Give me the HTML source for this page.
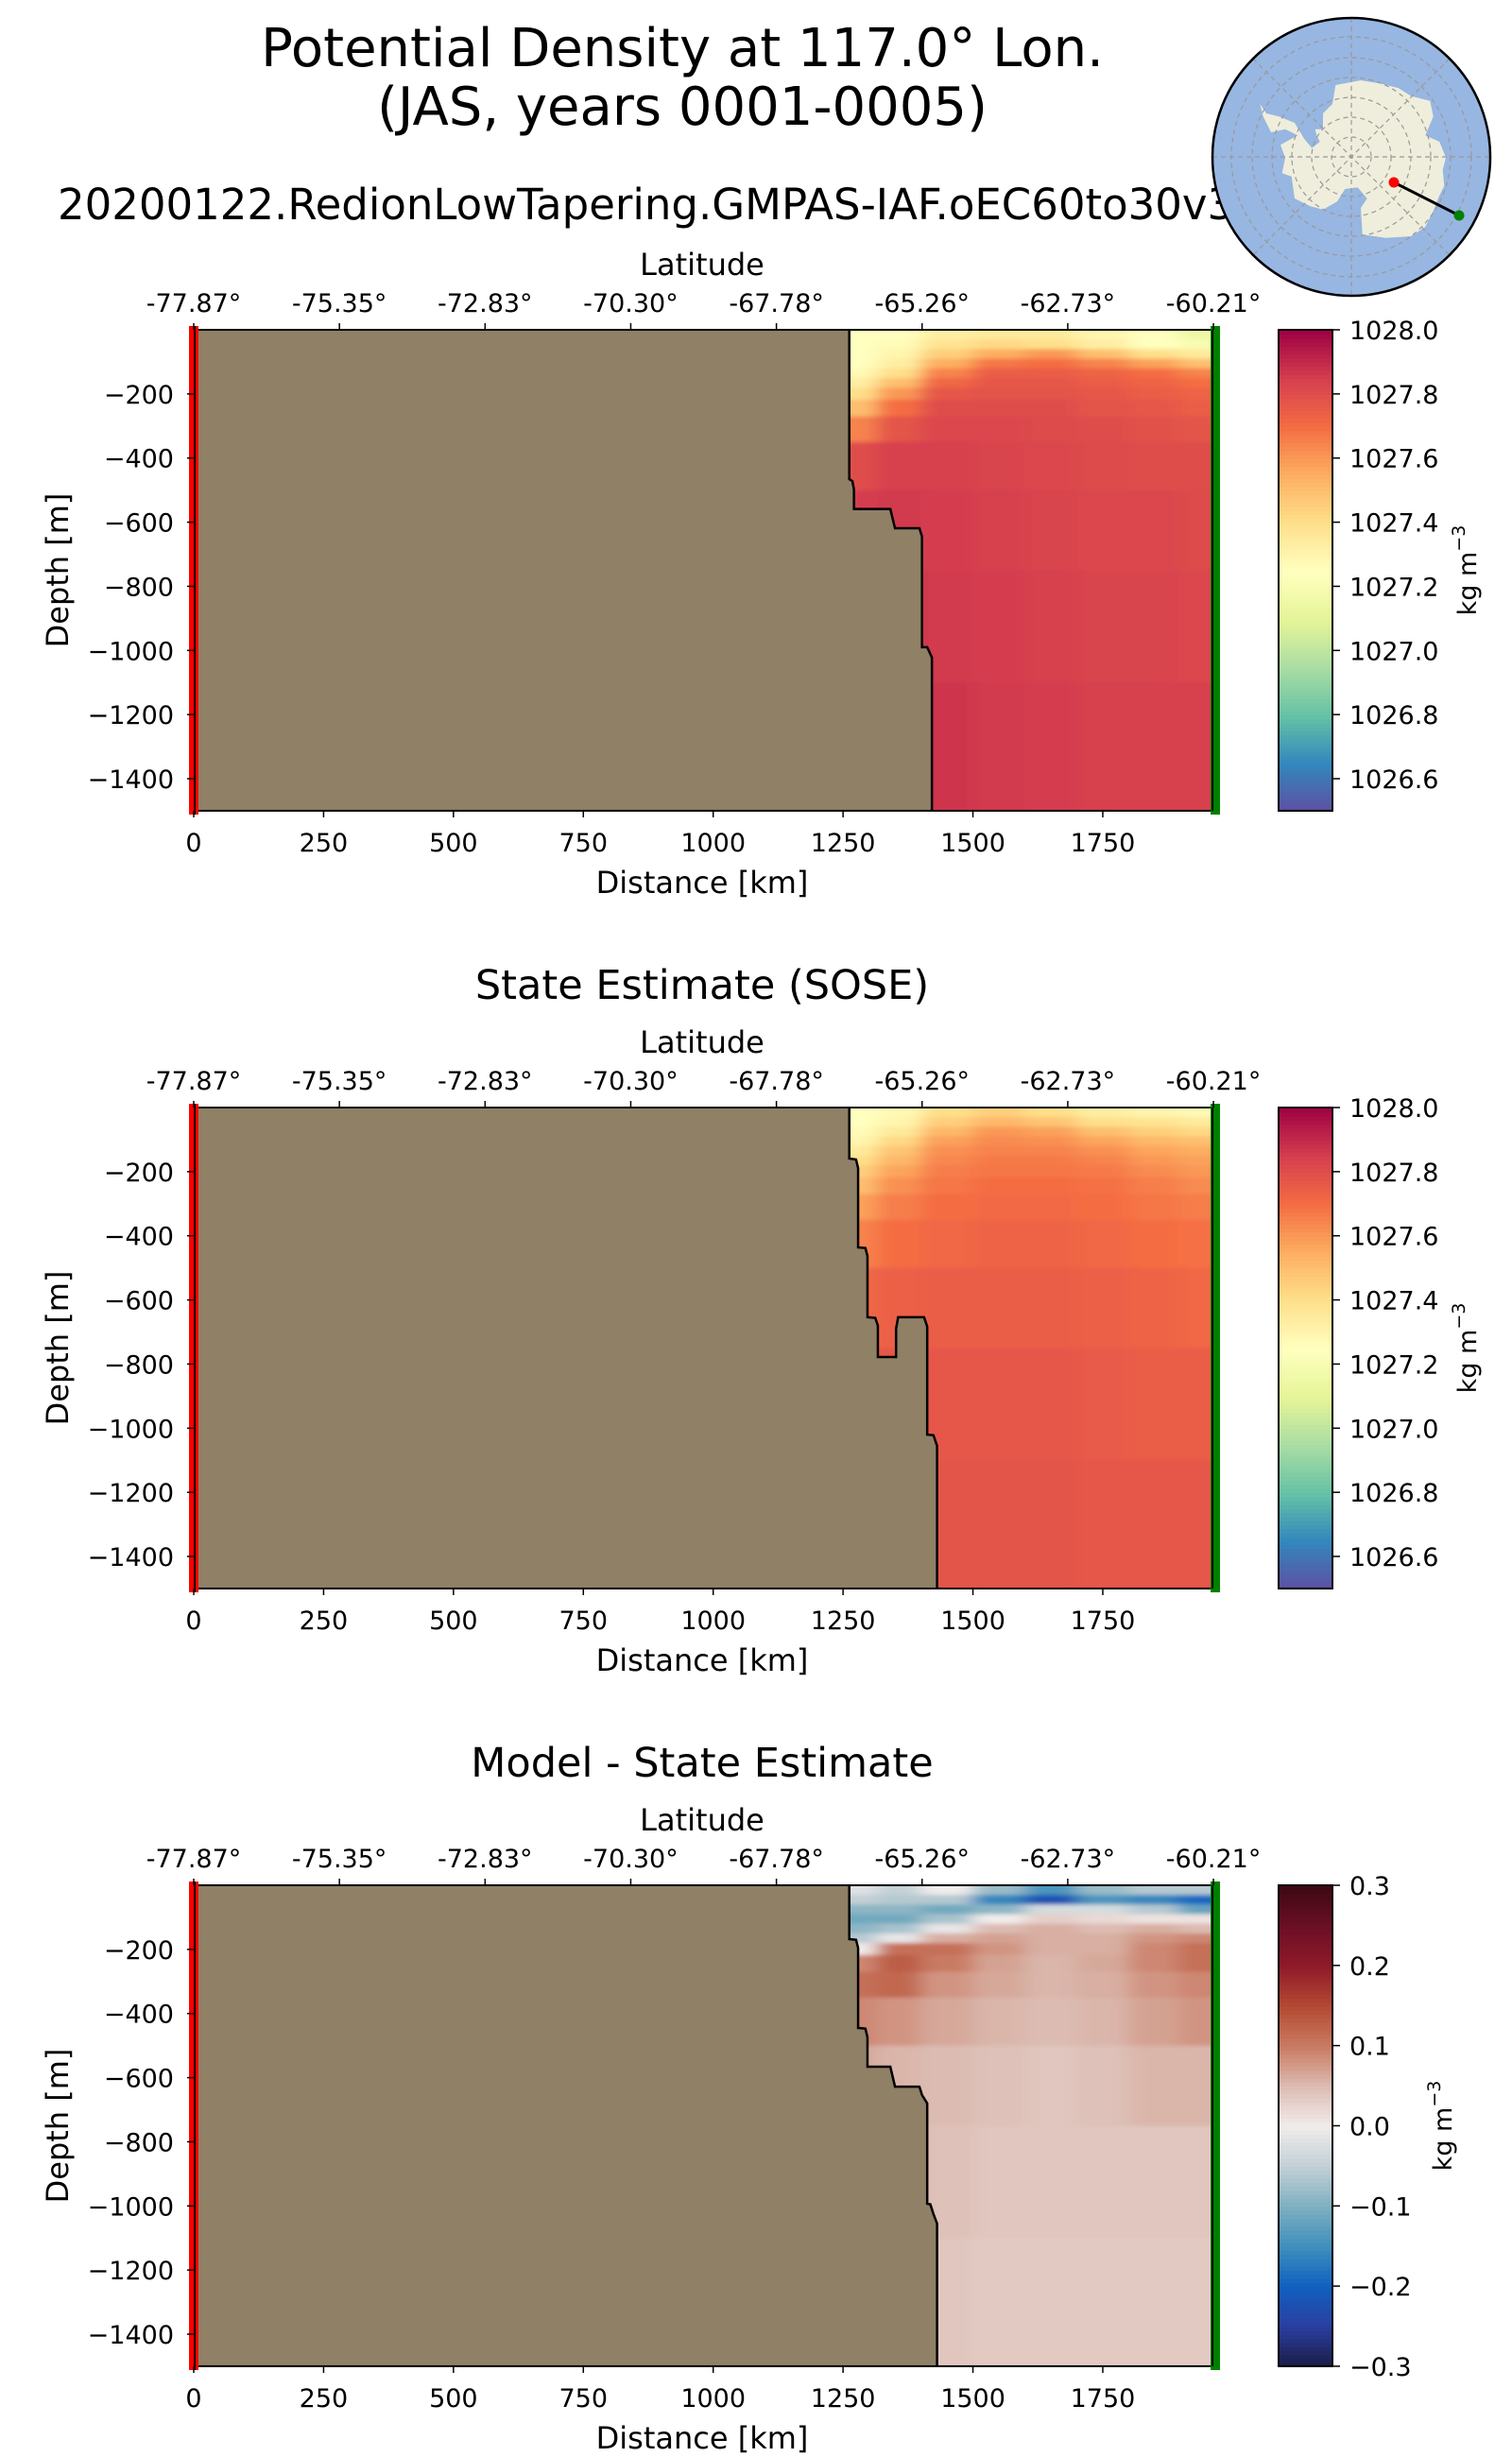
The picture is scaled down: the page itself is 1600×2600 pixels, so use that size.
<!DOCTYPE html>
<html><head><meta charset="utf-8">
<style>
html,body{margin:0;padding:0;background:#fff;}
svg{display:block;font-family:"DejaVu Sans","Liberation Sans",sans-serif;}
</style></head>
<body>
<svg id="fig" width="1600" height="2600" viewBox="0 0 1600 2600" xmlns="http://www.w3.org/2000/svg">
<defs>
<filter id="blur" x="-5%" y="-5%" width="110%" height="110%"><feGaussianBlur stdDeviation="10 2"/></filter>
</defs>
<text x="722" y="70" font-size="56" text-anchor="middle">Potential Density at 117.0° Lon.</text>
<text x="722" y="132" font-size="56" text-anchor="middle">(JAS, years 0001-0005)</text>
<text x="61" y="232" font-size="45">20200122.RedionLowTapering.GMPAS-IAF.oEC60to30v3</text>
<g id="panels"></g>
<g id="map"></g>
</svg>
<script>
// ---- data ----
const distTicks = [0,250,500,750,1000,1250,1500,1750];
const latTickLabels = ["-77.87°","-75.35°","-72.83°","-70.30°","-67.78°","-65.26°","-62.73°","-60.21°"];
const depthTicks = [-200,-400,-600,-800,-1000,-1200,-1400];
const rhoTicks = [1026.6,1026.8,1027.0,1027.2,1027.4,1027.6,1027.8,1028.0];
const diffTicks = [-0.3,-0.2,-0.1,0.0,0.1,0.2,0.3];
const colKm = [1280,1350,1450,1550,1650,1750,1850,1940];
const rowDepth = [15,45,75,105,135,165,195,240,300,400,600,900,1300];
const modelRho = [
[1027.25,1027.25,1027.33,1027.35,1027.35,1027.30,1027.25,1027.15],
[1027.25,1027.27,1027.38,1027.42,1027.40,1027.33,1027.25,1027.20],
[1027.25,1027.30,1027.45,1027.55,1027.60,1027.50,1027.40,1027.35],
[1027.25,1027.33,1027.55,1027.68,1027.70,1027.65,1027.58,1027.50],
[1027.28,1027.40,1027.65,1027.75,1027.75,1027.73,1027.70,1027.65],
[1027.33,1027.50,1027.72,1027.77,1027.77,1027.75,1027.73,1027.70],
[1027.40,1027.60,1027.77,1027.78,1027.78,1027.77,1027.75,1027.73],
[1027.50,1027.70,1027.80,1027.80,1027.80,1027.78,1027.77,1027.75],
[1027.65,1027.78,1027.82,1027.82,1027.81,1027.80,1027.79,1027.78],
[1027.80,1027.84,1027.84,1027.83,1027.82,1027.81,1027.80,1027.80],
[1027.85,1027.86,1027.85,1027.84,1027.83,1027.82,1027.82,1027.81],
[1027.87,1027.87,1027.86,1027.85,1027.84,1027.83,1027.83,1027.82],
[1027.88,1027.88,1027.87,1027.86,1027.85,1027.84,1027.84,1027.84]];
const soseRho = [
[1027.25,1027.28,1027.40,1027.45,1027.40,1027.33,1027.30,1027.28],
[1027.25,1027.30,1027.45,1027.52,1027.48,1027.40,1027.38,1027.35],
[1027.27,1027.35,1027.52,1027.60,1027.58,1027.50,1027.45,1027.42],
[1027.30,1027.42,1027.58,1027.63,1027.62,1027.57,1027.52,1027.50],
[1027.35,1027.48,1027.62,1027.65,1027.65,1027.62,1027.57,1027.55],
[1027.40,1027.52,1027.64,1027.67,1027.67,1027.65,1027.60,1027.58],
[1027.45,1027.57,1027.66,1027.68,1027.68,1027.67,1027.63,1027.60],
[1027.50,1027.62,1027.68,1027.70,1027.70,1027.69,1027.66,1027.63],
[1027.58,1027.66,1027.70,1027.71,1027.71,1027.70,1027.68,1027.66],
[1027.65,1027.70,1027.72,1027.73,1027.73,1027.72,1027.70,1027.69],
[1027.72,1027.74,1027.75,1027.75,1027.75,1027.74,1027.73,1027.72],
[1027.76,1027.77,1027.77,1027.77,1027.77,1027.76,1027.75,1027.75],
[1027.78,1027.78,1027.78,1027.78,1027.78,1027.77,1027.77,1027.77]];
const diffRho = [
[-0.02,-0.05,0.00,-0.08,-0.14,-0.08,-0.06,-0.06],
[-0.05,-0.06,-0.06,-0.16,-0.22,-0.14,-0.16,-0.19],
[-0.09,-0.09,-0.11,-0.09,-0.03,-0.03,-0.06,-0.12],
[-0.11,-0.11,-0.07,0.00,0.03,0.02,0.01,0.01],
[-0.09,-0.07,-0.01,0.05,0.06,0.05,0.06,0.05],
[-0.06,-0.01,0.06,0.07,0.06,0.06,0.08,0.09],
[0.00,0.11,0.11,0.08,0.06,0.06,0.09,0.11],
[0.09,0.13,0.10,0.07,0.055,0.065,0.09,0.11],
[0.11,0.12,0.08,0.065,0.055,0.06,0.08,0.09],
[0.09,0.08,0.065,0.055,0.05,0.055,0.07,0.08],
[0.065,0.055,0.05,0.045,0.04,0.045,0.055,0.055],
[0.055,0.05,0.045,0.04,0.04,0.04,0.04,0.04],
[0.05,0.045,0.04,0.035,0.035,0.035,0.035,0.035]];
// bathymetry boundary (km, depth m), top to bottom
const bathyModel = [[1262,0],[1262,466],[1268,472],[1271,498],[1271,559],[1341,559],[1350,619],[1397,619],[1402,645],[1402,990],[1412,990],[1421,1022],[1421,1500]];
const bathySose = [[1262,0],[1262,159],[1275,162],[1279,189],[1279,436],[1293,438],[1297,463],[1297,654],[1312,656],[1317,680],[1317,778],[1352,778],[1352,690],[1356,654],[1406,654],[1412,683],[1412,1020],[1424,1022],[1431,1055],[1431,1500]];
const bathyDiff = [[1262,0],[1262,168],[1275,170],[1279,195],[1279,445],[1293,447],[1297,474],[1297,566],[1341,566],[1350,628],[1397,628],[1402,654],[1412,680],[1412,993],[1418,995],[1424,1025],[1431,1055],[1431,1500]];

// ---- layout ----
const X0=205, KMPX=0.5497, XMAX=1963, DPX=0.3393;
const CBX=1353, CBW=57;
const NS="http://www.w3.org/2000/svg";
function mk(tag, attrs, parent){const e=document.createElementNS(NS,tag);for(const k in attrs)e.setAttribute(k,attrs[k]);if(parent)parent.appendChild(e);return e;}
function hex(h){return [parseInt(h.slice(1,3),16),parseInt(h.slice(3,5),16),parseInt(h.slice(5,7),16)];}
const spectral=["#5e4fa2","#3288bd","#66c2a5","#abdda4","#e6f598","#ffffbf","#fee08b","#fdae61","#f46d43","#d53e4f","#9e0142"];
const balance=["#1a1c45","#2a3ea0","#1060c0","#3f8fbd","#7fafc0","#c3d0d5","#f1ecec","#dcbcb2","#c97a62","#b44a33","#8f1a2a","#6b0f25","#3c0912"];
function cmap(stops,t){t=Math.max(0,Math.min(1,t));const n=stops.length-1;const i=Math.min(n-1,Math.floor(t*n));const f=t*n-i;const a=hex(stops[i]),b=hex(stops[i+1]);return "rgb("+a.map((v,k)=>Math.round(v+(b[k]-v)*f)).join(",")+")";}

const panels=[
 {top:349, data:modelRho, bathy:bathyModel, stops:spectral, vmin:1026.5, vmax:1028.0, ticks:rhoTicks, fmt:v=>v.toFixed(1), title:null, unitX:1553, name:"model"},
 {top:1172, data:soseRho, bathy:bathySose, stops:spectral, vmin:1026.5, vmax:1028.0, ticks:rhoTicks, fmt:v=>v.toFixed(1), title:"State Estimate (SOSE)", unitX:1553, name:"sose"},
 {top:1995, data:diffRho, bathy:bathyDiff, stops:balance, vmin:-0.3, vmax:0.3, ticks:diffTicks, fmt:v=>(v<0?"\u2212":"")+Math.abs(v).toFixed(1), title:"Model - State Estimate", unitX:1527, name:"difference"}];

const root=document.getElementById("panels");
panels.forEach((p,pi)=>{
 const g=mk("g",{},root);
 
 
 const T=p.top, B=T+1500*DPX;
 const xs=km=>X0+km*KMPX, ys=d=>T+d*DPX;
 const R=xs(XMAX);
 if(p.title){const t=mk("text",{x:743,y:T-115,"font-size":43,"text-anchor":"middle"},g);t.textContent=p.title;
  
  }
 const clipId="clip"+pi;
 const cp=mk("clipPath",{id:clipId},g);mk("rect",{x:X0,y:T,width:R-X0,height:B-T},cp);
 const fg=mk("g",{"clip-path":"url(#"+clipId+")"},g);
 const fld=mk("g",{filter:"url(#blur)"},fg);
 
 
 const xe=[1200]; for(let i=1;i<colKm.length;i++)xe.push((colKm[i-1]+colKm[i])/2); xe.push(2050);
 const de=[-40]; for(let j=1;j<rowDepth.length;j++)de.push((rowDepth[j-1]+rowDepth[j])/2); de.push(1560);
 for(let j=0;j<rowDepth.length;j++)for(let i=0;i<colKm.length;i++){
  const c=mk("rect",{x:xs(xe[i]),y:ys(de[j]),width:xs(xe[i+1])-xs(xe[i])+1,height:ys(de[j+1])-ys(de[j])+1,fill:cmap(p.stops,(p.data[j][i]-p.vmin)/(p.vmax-p.vmin))},fld);
  
  
 }
 let pts=[[X0,T]];p.bathy.forEach(b=>pts.push([xs(b[0]),ys(b[1])]));pts.push([X0,B]);
 const land=mk("polygon",{points:pts.map(q=>q.join(",")).join(" "),fill:"#8f8066"},fg);
 
 
 const bl=mk("polyline",{points:p.bathy.map(b=>xs(b[0])+","+ys(b[1])).join(" "),fill:"none",stroke:"#000","stroke-width":2.5},fg);
 
 
 mk("rect",{x:X0,y:T,width:R-X0,height:B-T,fill:"none",stroke:"#000","stroke-width":2},g);
 const rl=mk("line",{x1:X0,y1:T-4,x2:X0,y2:B+4,stroke:"#ff0000","stroke-width":10},g);
 
 
 mk("line",{x1:X0+1,y1:T-4,x2:X0+1,y2:B+4,stroke:"#000","stroke-width":2},g);
 const gl=mk("line",{x1:R+2,y1:T-4,x2:R+2,y2:B+4,stroke:"#008000","stroke-width":10},g);
 
 
 mk("line",{x1:R-1,y1:T,x2:R-1,y2:B,stroke:"#000","stroke-width":2},g);
 distTicks.forEach(v=>{const x=xs(v);mk("line",{x1:x,y1:B,x2:x,y2:B+7,stroke:"#000","stroke-width":1.5},g);
  const t=mk("text",{x:x,y:B+43,"font-size":27,"text-anchor":"middle"},g);t.textContent=v;
  
  });
 const xl=mk("text",{x:743,y:B+87,"font-size":32,"text-anchor":"middle"},g);xl.textContent="Distance [km]";
 
 
 latTickLabels.forEach((l,i)=>{const x=X0+i*(R-X0)/(latTickLabels.length-1);mk("line",{x1:x,y1:T,x2:x,y2:T-7,stroke:"#000","stroke-width":1.5},g);
  const t=mk("text",{x:x,y:T-19,"font-size":27,"text-anchor":"middle"},g);t.textContent=l;
  
  });
 const ll=mk("text",{x:743,y:T-58,"font-size":32,"text-anchor":"middle"},g);ll.textContent="Latitude";
 
 
 depthTicks.forEach(v=>{const y=ys(-v);mk("line",{x1:X0,y1:y,x2:X0-7,y2:y,stroke:"#000","stroke-width":1.5},g);
  const t=mk("text",{x:184,y:y+10,"font-size":27,"text-anchor":"end"},g);t.textContent="\u2212"+(-v);
  
  });
 const yl=mk("text",{x:0,y:0,"font-size":32,"text-anchor":"middle",transform:"translate(72,"+((T+B)/2)+") rotate(-90)"},g);yl.textContent="Depth [m]";
 
 
 const cb=mk("g",{},g);
 
 
 const N=120;
 for(let k=0;k<N;k++){const y0=B-(k+1)*(B-T)/N;mk("rect",{x:CBX,y:y0,width:CBW,height:(B-T)/N+1,fill:cmap(p.stops,(k+0.5)/N)},cb);}
 mk("rect",{x:CBX,y:T,width:CBW,height:B-T,fill:"none",stroke:"#000","stroke-width":2},cb);
 p.ticks.forEach(v=>{const y=B-(v-p.vmin)/(p.vmax-p.vmin)*(B-T);mk("line",{x1:CBX+CBW,y1:y,x2:CBX+CBW+8,y2:y,stroke:"#000","stroke-width":1.5},cb);
  const t=mk("text",{x:CBX+CBW+18,y:y+10,"font-size":27},cb);t.textContent=p.fmt(v);
  
  });
 const u=mk("text",{x:0,y:0,"font-size":27,"text-anchor":"middle",transform:"translate("+(p.unitX+9)+","+((T+B)/2)+") rotate(-90)"},cb);
 u.innerHTML='kg m<tspan dy="-12" font-size="19">\u22123</tspan>';
 
 
});

const map=document.getElementById("map");
const cx=1430,cy=166,r=147;
mk("circle",{cx:cx,cy:cy,r:r,fill:"#97b6e1",stroke:"none"},map);
const ant=[[460,240],[540,225],[600,235],[660,250],[700,275],[760,290],[770,340],[745,400],[790,420],[810,470],[800,510],[805,560],[790,590],[770,640],[745,690],[700,720],[620,725],[545,715],[540,630],[560,600],[530,565],[490,570],[465,610],[420,635],[380,625],[330,600],[320,530],[290,520],[300,470],[285,430],[340,400],[300,380],[255,390],[230,340],[220,300],[240,330],[280,340],[330,360],[360,410],[385,440],[410,420],[400,400],[395,380],[420,380],[420,330],[450,300]];
const ap=mk("polygon",{points:ant.map(q=>(q[0]/3+1260).toFixed(1)+","+(q[1]/3+10).toFixed(1)).join(" "),fill:"#efeedc"},map);


[21,42,63,84,105,127].forEach(rr=>mk("circle",{cx:cx,cy:cy,r:rr,fill:"none",stroke:"#999","stroke-width":1.2,"stroke-dasharray":"5,4"},map));
for(let a=0;a<180;a+=45){const t=a*Math.PI/180;mk("line",{x1:cx-r*Math.cos(t),y1:cy-r*Math.sin(t),x2:cx+r*Math.cos(t),y2:cy+r*Math.sin(t),stroke:"#999","stroke-width":1.2,"stroke-dasharray":"5,4"},map);}
mk("line",{x1:1475,y1:193,x2:1544,y2:228,stroke:"#000","stroke-width":3},map);
const rd=mk("circle",{cx:1475,cy:193,r:5.5,fill:"#ff0000"},map);


const gd=mk("circle",{cx:1544,cy:228,r:5.5,fill:"#008000"},map);


mk("circle",{cx:cx,cy:cy,r:r,fill:"none",stroke:"#000","stroke-width":2.5},map);
</script>
</body></html>
